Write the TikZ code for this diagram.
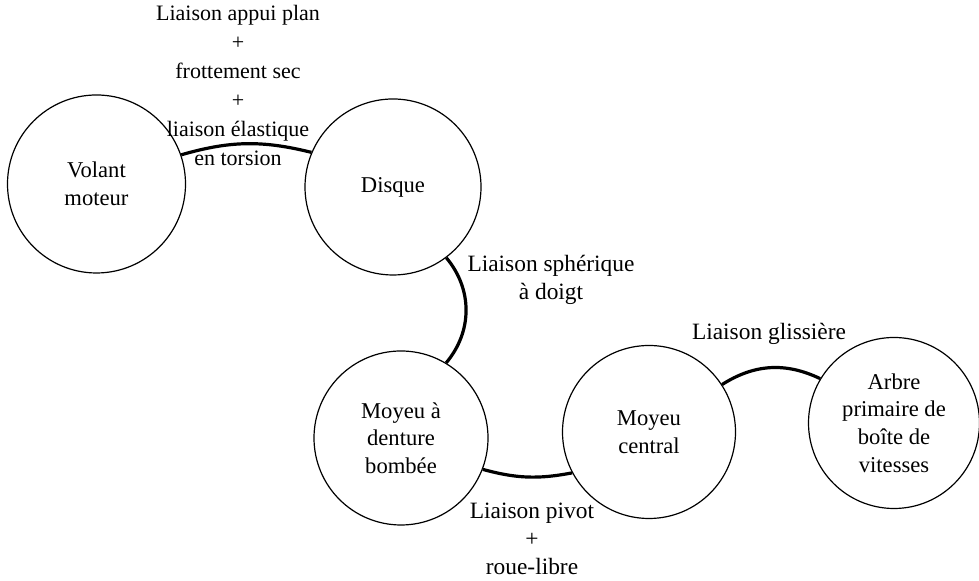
\documentclass[tikz,border=0pt]{standalone}
\usepackage{fontspec}
\setmainfont{Liberation Serif}
\usetikzlibrary{positioning,calc}

\begin{document}
\begin{tikzpicture}[
  x=0.5pt,y=0.5pt,
  font=\fontsize{11.3}{13.8}\selectfont,
  piece/.style={draw,circle,line width=0.6pt,inner sep=0pt,align=center},
  liai/.style={line width=1.6pt},
  lab/.style={align=center,inner sep=0pt,font=\fontsize{11.7}{14}\selectfont},
]
  \useasboundingbox (0,0) rectangle (979,581);

  % pieces
  \node[piece,minimum size=89pt]   (volant)  at (96.5,397) {Volant\\moteur};
  \node[piece,minimum size=88pt]   (disque)  at (393,394)  {Disque};
  \node[piece,minimum size=87pt]   (denture) at (401,143)  {Moyeu \`a\\denture\\bomb\'ee};
  \node[piece,minimum size=86.5pt] (central) at (649,149)  {Moyeu\\central};
  \node[piece,minimum size=85.5pt] (arbre)   at (894,158)  {Arbre\\primaire de\\bo\^ite de\\vitesses};

  % liaisons
  \draw[liai] (volant.19)   to[bend left=15]  (disque.157);
  \draw[liai] (disque.-53)  to[bend left=40]  (denture.59);
  \draw[liai] (denture.-21) to[bend right=13] (central.208);
  \draw[liai] (central.33)  to[bend left=29]  (arbre.149);

  % labels
  \node[lab,font=\fontsize{11}{14.5}\selectfont] (lap) at (238,495.5)
    {Liaison appui plan\\+\\frottement sec\\+\\liaison \'elastique\\en torsion};
  \node[lab] (lsph) at (551,301)  {Liaison sph\'erique\\\`a doigt};
  \node[lab] (lgl)  at (769,247)  {Liaison glissi\`ere};
  \node[lab] (lpiv) at (532,42) {Liaison pivot\\+\\roue-libre};
\end{tikzpicture}
\end{document}
